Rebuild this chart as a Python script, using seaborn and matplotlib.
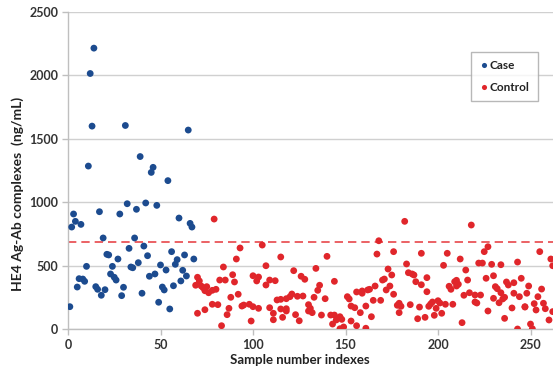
import matplotlib
matplotlib.use("Agg")
import matplotlib.pyplot as plt
import seaborn as sns
import pandas as pd

case_values = [176, 804, 907, 849, 331, 397, 825, 394, 376, 494,
               1285, 2015, 1600, 2215, 334, 313, 925, 266, 718, 310,
               589, 584, 434, 494, 408, 386, 552, 907, 263, 329,
               1605, 988, 636, 489, 483, 718, 944, 523, 1360, 282,
               654, 994, 578, 416, 1235, 1275, 434, 975, 211, 505,
               331, 308, 465, 1170, 158, 610, 341, 510, 547, 875,
               379, 463, 584, 418, 1569, 833, 804, 552]
case_index = list(range(1, len(case_values) + 1))

control_points = [
    (79, 867), (93, 639), (105, 662), (91, 552), (84, 489), (115, 568), (140, 573),
    (107, 499), (134, 478), (122, 460), (126, 416), (128, 392), (89, 428), (82, 386),
    (85, 386), (90, 371), (100, 420), (103, 410), (102, 379), (109, 386), (112, 381),
    (107, 347), (70, 408), (71, 379), (69, 345), (72, 339), (73, 326), (75, 334),
    (74, 302), (76, 286), (78, 305), (80, 313), (88, 250), (92, 274), (136, 345),
    (135, 305), (144, 376), (121, 276), (120, 255), (115, 234), (113, 229), (118, 239),
    (124, 258), (127, 260), (133, 250), (139, 239), (151, 255), (152, 237), (156, 292),
    (159, 300), (162, 308), (78, 195), (81, 192), (74, 152), (70, 124), (87, 163),
    (86, 113), (94, 181), (95, 189), (98, 195), (100, 176), (103, 163), (109, 168),
    (111, 124), (111, 73), (115, 158), (118, 160), (118, 142), (116, 92), (123, 113),
    (125, 65), (130, 192), (131, 163), (132, 129), (137, 110), (130, 142), (142, 110),
    (144, 110), (147, 97), (145, 71), (148, 76), (143, 39), (147, 2), (149, 16),
    (153, 181), (155, 168), (158, 129), (161, 181), (153, 63), (156, 26), (161, 6),
    (99, 63), (83, 26),
    (182, 849), (218, 820), (168, 696), (167, 591), (176, 610), (191, 597), (205, 597),
    (212, 552), (227, 649), (225, 610), (222, 520), (224, 520), (229, 510), (234, 507),
    (243, 528), (255, 610), (261, 552), (262, 499), (183, 513), (203, 502), (173, 473),
    (171, 394), (170, 386), (175, 426), (174, 339), (172, 308), (184, 444), (186, 434),
    (187, 426), (194, 405), (188, 373), (191, 349), (215, 465), (216, 386), (206, 337),
    (207, 313), (209, 373), (210, 384), (211, 353), (210, 339), (194, 294), (226, 400),
    (230, 420), (231, 334), (232, 318), (234, 286), (236, 250), (237, 371), (241, 365),
    (238, 347), (245, 400), (249, 339), (248, 282), (256, 315), (241, 282), (163, 313),
    (166, 339), (159, 282), (165, 226), (169, 226), (176, 274), (185, 192), (178, 187),
    (179, 203), (180, 179), (179, 129), (190, 173), (189, 81), (193, 92), (195, 179),
    (196, 197), (197, 213), (200, 223), (201, 205), (199, 163), (198, 108), (202, 124),
    (204, 195), (208, 195), (213, 50), (214, 266), (217, 286), (220, 268), (220, 213),
    (221, 205), (223, 268), (227, 142), (230, 242), (233, 207), (235, 237), (236, 84),
    (240, 166), (244, 255), (247, 173), (247, 176), (243, 0), (250, 39), (251, 2),
    (252, 200), (253, 150), (254, 255), (257, 203), (258, 160), (260, 71), (262, 137),
    (164, 97),
]
control_index = [p[0] for p in control_points]
control_values = [p[1] for p in control_points]

cutoff = 685
groups = ["Case", "Control"]
colors = {"Case": "#1c4b8f", "Control": "#e0262b"}

df = pd.DataFrame({
    "index": case_index + control_index,
    "value": case_values + control_values,
    "group": ["Case"] * len(case_values) + ["Control"] * len(control_values),
})

sns.set_theme(style="white")
plt.rcParams["font.family"] = ["Lato", "DejaVu Sans"]

fig = plt.figure(figsize=(5.53, 3.79), dpi=100)
ax = fig.add_axes([68 / 553, 50 / 379, 499.5 / 553, 317 / 379])

sns.scatterplot(data=df, x="index", y="value", hue="group", hue_order=groups,
                palette=colors, s=24, linewidth=0, ax=ax, zorder=3)

ax.axhline(cutoff, color="#e8474a", linestyle=(0, (5, 3)), linewidth=1.2, zorder=2)

ax.set_xlim(0, 270)
ax.set_ylim(0, 2500)
ax.set_xticks([0, 50, 100, 150, 200, 250])
ax.set_yticks([0, 500, 1000, 1500, 2000, 2500])
ax.yaxis.grid(True, color="#d0d0d0", linewidth=1)
ax.set_axisbelow(True)
for s in ["top", "right"]:
    ax.spines[s].set_visible(False)
for s in ["left", "bottom"]:
    ax.spines[s].set_color("#bfbfbf")
    ax.spines[s].set_linewidth(1)
ax.tick_params(axis="both", which="both", length=4, width=1, color="#bfbfbf",
               labelsize=9, labelcolor="#333333", direction="out",
               bottom=True, left=True, pad=3)
for lab in ax.get_xticklabels() + ax.get_yticklabels():
    lab.set_fontweight("bold")

ax.set_xlabel("Sample number indexes", fontsize=9.5, fontweight="bold", color="#222222")
ax.set_ylabel("HE4 Ag-Ab complexes  (ng/mL)", fontsize=10, fontweight="bold", color="#222222")
ax.xaxis.set_label_coords((300 - 68) / 499.5, -25 / 317)
ax.yaxis.set_label_coords(-44 / 499.5, (329 - 194) / 317)

leg = ax.legend(title=None, loc="upper left",
                bbox_to_anchor=((471 - 68) / 499.5, (329 - 52) / 317),
                borderaxespad=0, frameon=True, fancybox=False, edgecolor="#a6a6a6",
                fontsize=8.5, handletextpad=0.1, borderpad=0.7, labelspacing=0.9,
                markerscale=0.75, handlelength=0.8)
leg.get_frame().set_linewidth(1)
for t in leg.get_texts():
    t.set_fontweight("bold")
    t.set_color("#222222")

fig.savefig("out.png", dpi=100)
